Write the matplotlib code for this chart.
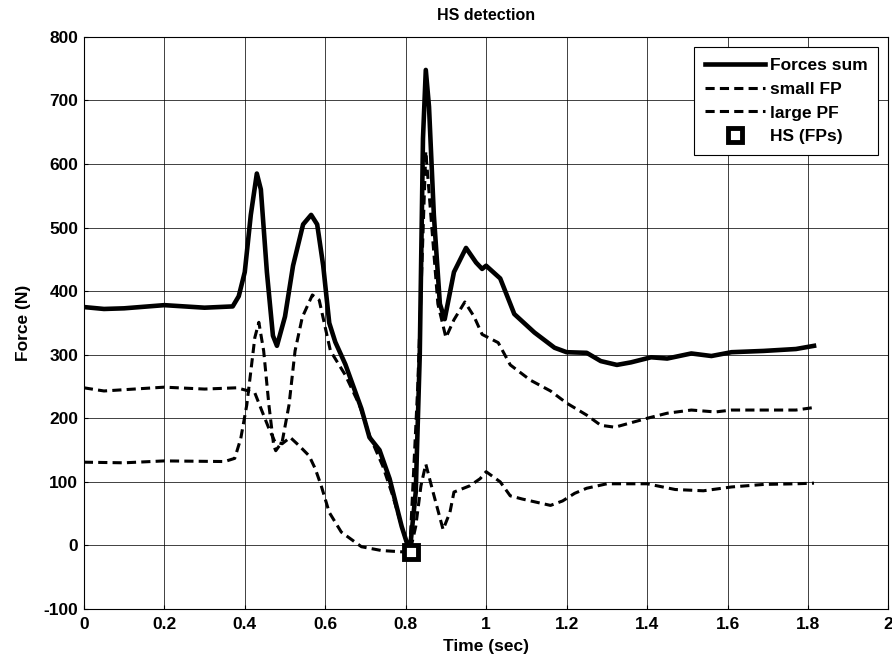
import numpy as np
import matplotlib.pyplot as plt

plt.rcParams['font.family'] = ['Liberation Sans', 'DejaVu Sans']
plt.rcParams['font.weight'] = 'bold'
plt.rcParams['axes.unicode_minus'] = False

# Forces sum (solid)
t_sum = [0, 0.05, 0.1, 0.2, 0.3, 0.37, 0.385, 0.4, 0.415, 0.43, 0.44, 0.455, 0.47, 0.48,
         0.5, 0.52, 0.545, 0.565, 0.58, 0.595, 0.61, 0.625, 0.65, 0.69, 0.71, 0.735,
         0.76, 0.79, 0.81, 0.825, 0.835, 0.843, 0.85, 0.858, 0.87, 0.885, 0.897, 0.92,
         0.95, 0.975, 0.99, 1.0, 1.035, 1.07, 1.12, 1.17, 1.2, 1.25, 1.285, 1.325,
         1.36, 1.41, 1.45, 1.51, 1.56, 1.61, 1.69, 1.77, 1.815]
f_sum = [375, 372, 373, 378, 374, 376, 392, 430, 520, 585, 560, 430, 330, 314,
         360, 440, 505, 520, 505, 440, 350, 320, 285, 215, 170, 150,
         105, 30, -10, 84, 300, 640, 748, 690, 520, 380, 356, 430,
         468, 445, 435, 440, 420, 364, 335, 311, 304, 303, 290, 284,
         288, 296, 294, 302, 298, 304, 306, 309, 314]

# small FP (dashed, starts near 245)
t_small = [0, 0.05, 0.1, 0.2, 0.3, 0.38, 0.41, 0.425, 0.443, 0.46, 0.475, 0.493, 0.513,
           0.535, 0.56, 0.575, 0.59, 0.61, 0.64, 0.69, 0.74, 0.79, 0.81, 0.825, 0.838,
           0.85, 0.868, 0.893, 0.91, 0.92, 0.94, 0.96, 0.985, 1.0, 1.035, 1.06, 1.09,
           1.16, 1.19, 1.22, 1.25, 1.3, 1.4, 1.47, 1.54, 1.61, 1.69, 1.77, 1.815]
f_small = [248, 243, 245, 249, 246, 248, 243, 240, 211, 184, 163, 160, 170,
           157, 141, 121, 94, 52, 21, -2, -8, -10, -12, 30, 94,
           128, 84, 25, 52, 84, 89, 94, 105, 116, 100, 78, 73,
           63, 70, 82, 90, 97, 97, 88, 86, 92, 96, 97, 98]

# large PF (dashed, starts near 130)
t_large = [0, 0.1, 0.2, 0.35, 0.375, 0.39, 0.405, 0.413, 0.425, 0.435, 0.447, 0.46,
           0.472, 0.477, 0.493, 0.51, 0.525, 0.543, 0.568, 0.585, 0.6, 0.613, 0.65,
           0.685, 0.71, 0.743, 0.768, 0.79, 0.81, 0.83, 0.85, 0.865, 0.88, 0.9, 0.92,
           0.947, 0.97, 0.99, 1.03, 1.06, 1.11, 1.16, 1.2, 1.25, 1.285, 1.32, 1.4,
           1.45, 1.51, 1.57, 1.61, 1.69, 1.77, 1.815]
f_large = [131, 130, 133, 132, 137, 168, 221, 263, 327, 351, 306, 221,
           157, 149, 163, 221, 306, 359, 394, 386, 343, 306, 268,
           221, 173, 125, 78, 30, -10, 250, 620, 500, 380, 327, 355,
           383, 360, 332, 319, 284, 260, 243, 224, 205, 189, 186, 200,
           208, 213, 210, 213, 213, 213, 217]

hs_t = [0.812]
hs_f = [-10]

fig = plt.figure(figsize=(8.92, 6.63), dpi=100)
ax = fig.add_axes([0.094, 0.0814, 0.902, 0.863])

ax.plot(t_sum, f_sum, 'k-', lw=3.3, label='Forces sum')
ax.plot(t_small, f_small, 'k--', lw=2.2, dashes=(3, 1.7), label='small FP')
ax.plot(t_large, f_large, 'k--', lw=2.2, dashes=(3, 1.7), label='large PF')
ax.plot(hs_t, hs_f, 's', ms=10, mfc='white', mec='black', mew=3.5, ls='none', label='HS (FPs)')

ax.set_xlim(0, 2)
ax.set_ylim(-100, 800)
ax.set_xticks(np.arange(0, 2.01, 0.2))
ax.set_xticklabels(['0', '0.2', '0.4', '0.6', '0.8', '1', '1.2', '1.4', '1.6', '1.8', '2'])
ax.set_yticks(np.arange(-100, 801, 100))
ax.tick_params(direction='in', length=3, labelsize=12.5)
ax.tick_params(axis='x', pad=6)
ax.tick_params(axis='y', pad=4)
ax.grid(True, color='k', lw=0.7, alpha=0.75)
ax.set_xlabel('Time (sec)', fontsize=12.5, fontweight='bold', labelpad=5)
ax.set_ylabel('Force (N)', fontsize=12.5, fontweight='bold', labelpad=9)
ax.set_title('HS detection', fontsize=11.5, fontweight='bold', pad=12)

leg = ax.legend(loc='upper right', fontsize=12.5, handlelength=3.45, handletextpad=0.3,
                labelspacing=0.5, borderpad=0.6, fancybox=False,
                framealpha=1, edgecolor='black', borderaxespad=0.6)
leg.get_frame().set_linewidth(0.8)

fig.savefig('out.png', dpi=100)
